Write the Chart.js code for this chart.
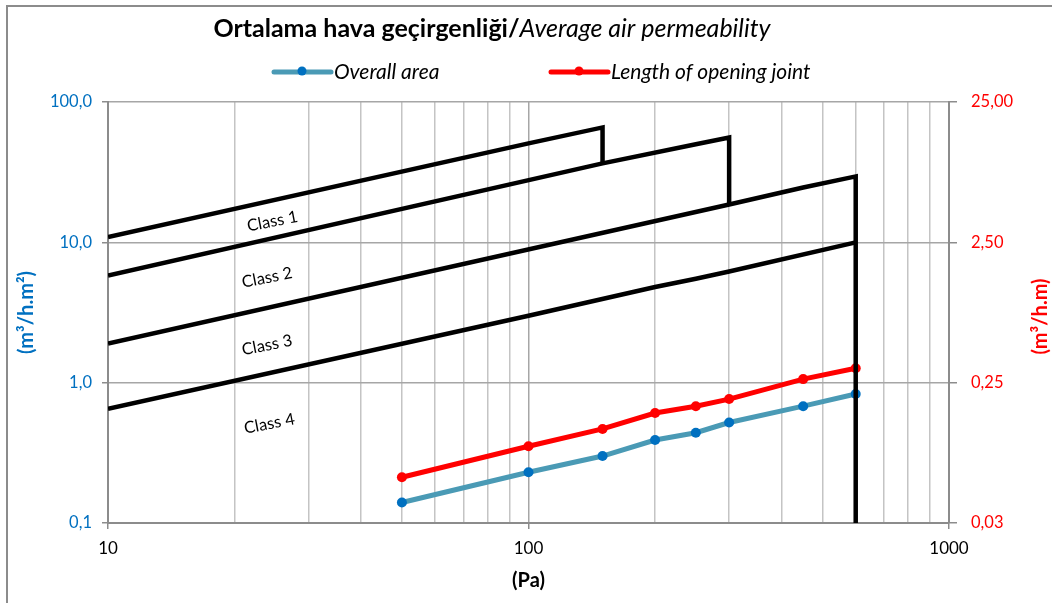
<!DOCTYPE html>
<html>
<head>
<meta charset="utf-8">
<title>Ortalama hava geçirgenliği</title>
<script src="https://cdn.jsdelivr.net/npm/chart.js@4.4.1/dist/chart.umd.min.js"></script>
<style>
  html, body { margin: 0; padding: 0; background: #fff; }
  #wrap { width: 1052px; height: 603px; position: relative; }
</style>
</head>
<body>
<div id="wrap"><canvas id="airChart" width="1052" height="603"></canvas></div>
<script>
// measured values (Pa vs permeability)
var pressure = [50, 100, 150, 200, 250, 300, 450, 600];
var overallArea = [0.14, 0.23, 0.30, 0.39, 0.44, 0.52, 0.68, 0.83];      // m3/h.m2 (left)
var openingJoint = [0.053, 0.088, 0.117, 0.152, 0.170, 0.191, 0.265, 0.317]; // m3/h.m (right)

// class limit lines
var class1X = [10, 100, 150, 150];
var class1Y = [10.9, 50.7, 65.9, 36.5];
var class2X = [10, 150, 250, 300, 300];
var class2Y = [5.8, 36.5, 50.0, 55.9, 18.6];
var class3X = [10, 300, 450, 600, 600];
var class3Y = [1.9, 18.6, 24.6, 29.5, 0.1];
var class4X = [10, 100, 200, 250, 300, 600];
var class4Y = [0.65, 3.0, 4.8, 5.5, 6.2, 10.0];

var classNames = ['Class 1', 'Class 2', 'Class 3', 'Class 4'];
var classLabelX = [24.6, 23.9, 23.9, 24.2];
var classLabelY = [14.1, 5.6, 1.85, 0.51];

var xTicks = [10, 20, 30, 40, 50, 60, 70, 80, 90, 100, 200, 300, 400, 500, 600, 700, 800, 900, 1000];
var xMajor = [10, 100, 1000];
var leftTicks = [0.1, 1, 10, 100];
var rightTicks = [0.025, 0.25, 2.5, 25];

var seriesNames = ['Overall area', 'Length of opening joint'];

var FONT = 'Lato, "Open Sans", sans-serif';
var BLUE_TXT = '#0070C0';
var BLUE_LINE = '#4A9AB5';
var RED = '#FF0000';
var AXIS_GREY = '#8C8C8C';

function pts(xs, ys){
	var out = [];
	for(var i=0;i<xs.length;i++){
		out.push({x: xs[i], y: ys[i]});
	}
	return out;
}

function classSet(xs, ys){
	return {
		data: pts(xs, ys),
		borderColor: '#000',
		borderWidth: 4.5,
		pointRadius: 0,
		fill: false,
		tension: 0,
		yAxisID: 'y'
	};
}

var decorPlugin = {
	id: 'decor',
	afterDraw: function(chart){
		var ctx = chart.ctx;
		var xs = chart.scales.x, ys = chart.scales.y;
		ctx.save();

		// outer frame (left + top only, like the original)
		ctx.strokeStyle = AXIS_GREY;
		ctx.lineWidth = 2;
		ctx.beginPath();
		ctx.moveTo(7, 603);
		ctx.lineTo(7, 6);
		ctx.lineTo(1052, 6);
		ctx.stroke();

		// title: bold turkish part + italic english part
		var t1 = 'Ortalama hava geçirgenliği/';
		var t2 = 'Average air permeability';
		ctx.textBaseline = 'alphabetic';
		ctx.fillStyle = '#000';
		ctx.font = 'bold 25px ' + FONT;
		var w1 = ctx.measureText(t1).width;
		ctx.font = 'italic 25px ' + FONT;
		var w2 = ctx.measureText(t2).width;
		var tx = 492 - (w1 + w2) / 2;
		ctx.font = 'bold 25px ' + FONT;
		ctx.textAlign = 'left';
		ctx.fillText(t1, tx, 37);
		ctx.font = 'italic 25px ' + FONT;
		ctx.fillText(t2, tx + w1, 37);

		// legend
		var legend = [
			{x: 274, line: BLUE_LINE, dot: BLUE_TXT, text: seriesNames[0]},
			{x: 551, line: RED, dot: RED, text: seriesNames[1]}
		];
		ctx.font = 'italic 21px ' + FONT;
		ctx.textBaseline = 'middle';
		for(var i=0;i<legend.length;i++){
			var l = legend[i];
			ctx.strokeStyle = l.line;
			ctx.lineWidth = 5;
			ctx.lineCap = 'round';
			ctx.beginPath();
			ctx.moveTo(l.x, 72);
			ctx.lineTo(l.x + 57, 72);
			ctx.stroke();
			ctx.fillStyle = l.dot;
			ctx.beginPath();
			ctx.arc(l.x + 28, 71, 4.5, 0, Math.PI * 2);
			ctx.fill();
			ctx.fillStyle = '#000';
			ctx.fillText(l.text, l.x + 60, 72);
		}
		ctx.lineCap = 'butt';

		// class labels
		ctx.font = '16.5px ' + FONT;
		ctx.textAlign = 'center';
		ctx.fillStyle = '#000';
		for(var k=0;k<classNames.length;k++){
			var px = xs.getPixelForValue(classLabelX[k]);
			var py = ys.getPixelForValue(classLabelY[k]);
			ctx.save();
			ctx.translate(px, py);
			ctx.rotate(-11 * Math.PI / 180);
			ctx.fillText(classNames[k], 0, 0);
			ctx.restore();
		}

		// axis titles
		var midY = (chart.chartArea.top + chart.chartArea.bottom) / 2;
		ctx.font = 'bold 20px ' + FONT;
		ctx.fillStyle = BLUE_TXT;
		ctx.save();
		ctx.translate(27, midY);
		ctx.rotate(-Math.PI / 2);
		ctx.fillText('(m³/h.m²)', 0, 0);
		ctx.restore();

		ctx.fillStyle = RED;
		ctx.save();
		ctx.translate(1041, midY + 4);
		ctx.rotate(-Math.PI / 2);
		ctx.fillText('(m³/h.m)', 0, 0);
		ctx.restore();

		ctx.fillStyle = '#000';
		ctx.fillText('(Pa)', (chart.chartArea.left + chart.chartArea.right) / 2, 581);

		ctx.restore();
	}
};

var ctx = document.getElementById('airChart').getContext('2d');

var airChart = new Chart(ctx, {
	type: 'line',
	data: {
		datasets: [
			classSet(class1X, class1Y),
			classSet(class2X, class2Y),
			classSet(class3X, class3Y),
			classSet(class4X, class4Y),
			{
				label: seriesNames[0],
				data: pts(pressure, overallArea),
				borderColor: BLUE_LINE,
				backgroundColor: BLUE_TXT,
				pointBackgroundColor: BLUE_TXT,
				pointBorderWidth: 0,
				pointRadius: 5,
				borderWidth: 5,
				tension: 0,
				yAxisID: 'y'
			},
			{
				label: seriesNames[1],
				data: pts(pressure, openingJoint),
				borderColor: RED,
				backgroundColor: RED,
				pointBackgroundColor: RED,
				pointBorderWidth: 0,
				pointRadius: 5,
				borderWidth: 5,
				tension: 0,
				yAxisID: 'y2'
			}
		]
	},
	options: {
		responsive: false,
		animation: false,
		layout: {padding: {top: 102, left: 0, right: 0, bottom: 0}},
		plugins: {
			legend: {display: false},
			title: {display: false},
			tooltip: {enabled: false}
		},
		scales: {
			x: {
				type: 'logarithmic',
				position: 'bottom',
				min: 10,
				max: 1000,
				afterBuildTicks: function(s){
					s.ticks = xTicks.map(function(v){ return {value: v}; });
				},
				afterFit: function(s){ s.height = 80; },
				border: {color: AXIS_GREY, width: 2},
				grid: {
					color: function(c){
						return xMajor.indexOf(c.tick && c.tick.value) >= 0 ? '#A6A6A6' : '#C4C4C4';
					},
					lineWidth: 1.5,
					tickLength: 6,
					tickColor: function(c){
						return xMajor.indexOf(c.tick && c.tick.value) >= 0 ? AXIS_GREY : 'rgba(0,0,0,0)';
					}
				},
				ticks: {
					autoSkip: false,
					maxRotation: 0,
					padding: 9,
					color: '#000',
					font: {family: FONT, size: 17},
					callback: function(v){
						return xMajor.indexOf(v) >= 0 ? String(v) : '';
					}
				}
			},
			y: {
				type: 'logarithmic',
				position: 'left',
				min: 0.1,
				max: 100,
				afterBuildTicks: function(s){
					s.ticks = leftTicks.map(function(v){ return {value: v}; });
				},
				afterFit: function(s){ s.width = 108; },
				border: {color: AXIS_GREY, width: 2},
				grid: {color: '#A6A6A6', lineWidth: 1.5, tickLength: 6, tickColor: AXIS_GREY},
				ticks: {
					padding: 10,
					color: BLUE_TXT,
					font: {family: FONT, size: 16.5},
					callback: function(v){ return Number(v).toFixed(1).replace('.', ','); }
				}
			},
			y2: {
				type: 'logarithmic',
				position: 'right',
				min: 0.025,
				max: 25,
				afterBuildTicks: function(s){
					s.ticks = rightTicks.map(function(v){ return {value: v}; });
				},
				afterFit: function(s){ s.width = 103; },
				border: {color: AXIS_GREY, width: 2},
				grid: {drawOnChartArea: false, tickLength: 8, tickColor: AXIS_GREY, lineWidth: 1.5},
				ticks: {
					padding: 14,
					color: RED,
					font: {family: FONT, size: 16.5},
					callback: function(v){ return Number(v).toFixed(2).replace('.', ','); }
				}
			}
		}
	},
	plugins: [decorPlugin]
});
</script>
</body>
</html>
